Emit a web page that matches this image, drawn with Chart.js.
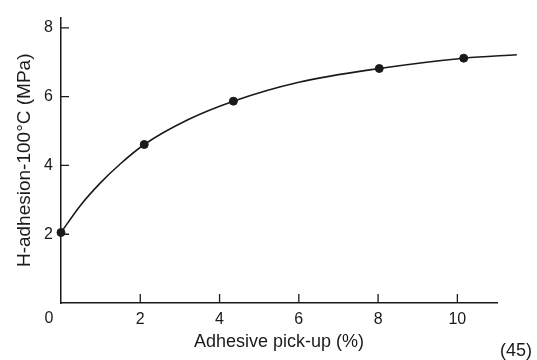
<!DOCTYPE html>
<html lang="en">
<head>
  <meta charset="UTF-8" />
  <title>H-adhesion vs adhesive pick-up</title>
  <script src="https://cdn.jsdelivr.net/npm/chart.js@4"></script>
  <style>
    body { margin: 0; background: #fff; }
    canvas { display: block; }
  </style>
</head>
<body>
  <canvas id="chart" width="537" height="360"></canvas>

  <script>
    // measured points (pick-up %, MPa)
    const pickUp = [0, 2.1, 4.35, 8.03, 10.16];
    const adhesion = [2.05, 4.61, 5.87, 6.82, 7.12];
    // drawn curve (passes through the points, runs past the last one)
    const curveX = [0, 0.5, 1.0, 1.5, 2.1, 3.2, 4.35, 6.0, 8.03, 10.16, 11.5];
    const curveY = [2.05, 2.85, 3.5, 4.05, 4.61, 5.33, 5.87, 6.42, 6.82, 7.12, 7.22];
    const xTicks = [2, 4, 6, 8, 10];
    const yTicks = [2, 4, 6, 8];
    const originLabel = "0";
    const figNote = "(45)";

    const ink = "#1a1a1a";
    const font = "'Liberation Sans', Arial, sans-serif";

    // ticks drawn inward from the axes, plus the origin "0" and figure number
    const extras = {
      id: "extras",
      afterDraw(chart) {
        const ctx = chart.ctx;
        const a = chart.chartArea;
        const xs = chart.scales.x, ys = chart.scales.y;
        ctx.save();
        ctx.strokeStyle = ink;
        ctx.lineWidth = 1.3;
        ctx.beginPath();
        xs.ticks.forEach(t => {
          const px = xs.getPixelForValue(t.value);
          ctx.moveTo(px, a.bottom);
          ctx.lineTo(px, a.bottom - 9);
        });
        ys.ticks.forEach(t => {
          const py = ys.getPixelForValue(t.value);
          ctx.moveTo(a.left, py);
          ctx.lineTo(a.left + 8, py);
        });
        ctx.stroke();
        ctx.fillStyle = ink;
        ctx.font = "16px " + font;
        ctx.textAlign = "center";
        ctx.textBaseline = "middle";
        ctx.fillText(originLabel, a.left - 12, a.bottom + 16);
        ctx.font = "18px " + font;
        ctx.fillText(figNote, 516, 351);
        ctx.restore();
      }
    };

    new Chart(document.getElementById("chart"), {
      type: "scatter",
      data: {
        datasets: [
          {
            type: "line",
            data: curveX.map((x, i) => ({ x: x, y: curveY[i] })),
            borderColor: ink,
            borderWidth: 1.6,
            pointRadius: 0,
            cubicInterpolationMode: "monotone",
            fill: false,
            clip: false
          },
          {
            data: pickUp.map((x, i) => ({ x: x, y: adhesion[i] })),
            backgroundColor: ink,
            borderColor: ink,
            pointRadius: 4,
            clip: false
          }
        ]
      },
      options: {
        responsive: false,
        animation: false,
        layout: { padding: { left: 0, right: 40, top: 12, bottom: 0 } },
        plugins: { legend: { display: false }, tooltip: { enabled: false } },
        scales: {
          x: {
            type: "linear",
            min: 0,
            max: 11,
            afterFit: s => { s.height = 57; },
            afterBuildTicks: s => { s.ticks = xTicks.map(v => ({ value: v })); },
            grid: { display: false, drawTicks: false },
            border: { display: true, color: ink, width: 1.5 },
            ticks: { color: ink, padding: 7, font: { family: font, size: 16 } },
            title: {
              display: true,
              text: "Adhesive pick-up (%)",
              color: ink,
              padding: { top: 0, bottom: 7 },
              font: { family: font, size: 18 }
            }
          },
          y: {
            min: 0,
            max: 8.3,
            afterFit: s => { s.width = 61; },
            afterBuildTicks: s => { s.ticks = yTicks.map(v => ({ value: v })); },
            grid: { display: false, drawTicks: false },
            border: { display: true, color: ink, width: 1.5 },
            ticks: { color: ink, padding: 8, font: { family: font, size: 16 } },
            title: {
              display: true,
              text: "H-adhesion-100°C (MPa)",
              color: ink,
              padding: { top: 13, bottom: 0 },
              font: { family: font, size: 19 }
            }
          }
        }
      },
      plugins: [extras]
    });
  </script>
</body>
</html>
